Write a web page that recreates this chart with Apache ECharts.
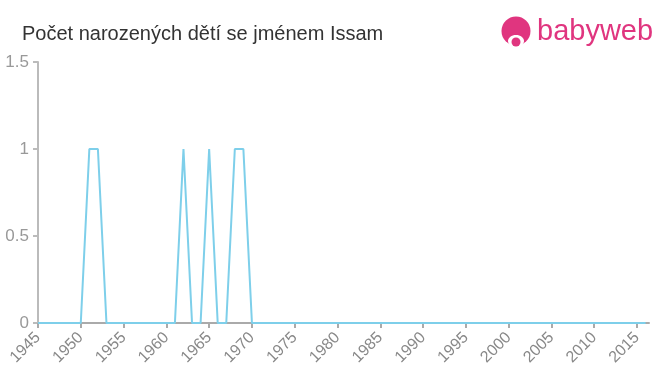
<!DOCTYPE html>
<html><head><meta charset="utf-8">
<script src="https://cdn.jsdelivr.net/npm/echarts@6/dist/echarts.min.js"></script>
<style>html,body{margin:0;padding:0;background:#fff}#c{width:660px;height:375px}</style>
</head><body><div id="c"></div>
<script>
const titleText = "Počet narozených dětí se jménem Issam";
const years = [];
for (let y = 1945; y <= 2016; y++) years.push(y);
const nonZero = {1951: 1, 1952: 1, 1962: 1, 1965: 1, 1968: 1, 1969: 1};
const counts = years.map(y => nonZero[y] || 0);
const yTicks = [0, 0.5, 1, 1.5];

const chart = echarts.init(document.getElementById('c'), null, {renderer: 'canvas'});
chart.setOption({
  animation: false,
  title: {
    text: titleText, left: 17, top: 19,
    textStyle: {fontFamily: 'Liberation Sans, Arial, sans-serif', fontSize: 20, fontWeight: 'normal', color: '#333'}
  },
  grid: {left: 38, right: 11, top: 62, bottom: 52, containLabel: false},
  xAxis: {
    type: 'value', min: 1945, max: 2016.4, interval: 5,
    axisLine: {lineStyle: {color: '#aaa', width: 2}},
    axisTick: {show: true, length: 5, lineStyle: {color: '#aaa', width: 2}},
    splitLine: {show: false},
    axisLabel: {
      rotate: 45, color: '#888', fontSize: 16, margin: 12,
      fontFamily: 'Liberation Sans, Arial, sans-serif',
      showMaxLabel: false,
      formatter: v => (v % 5 === 0 ? String(v) : '')
    }
  },
  yAxis: {
    type: 'value', min: 0, max: 1.5, interval: 0.5,
    axisLine: {show: true, lineStyle: {color: '#bbb', width: 2}},
    axisTick: {show: true, length: 5, lineStyle: {color: '#bbb', width: 2}},
    splitLine: {show: false},
    axisLabel: {color: '#999', fontSize: 17, margin: 9, fontFamily: 'Liberation Sans, Arial, sans-serif',
      formatter: v => String(v)}
  },
  series: [{
    type: 'line', data: years.map((y, i) => [y, counts[i]]),
    showSymbol: false, symbol: 'none',
    lineStyle: {color: '#7ecfea', width: 2},
    z: 3
  }],
  graphic: [
    {type: 'circle', shape: {cx: 516, cy: 31, r: 14.5}, style: {fill: '#e0357f'}},
    {type: 'ellipse', shape: {cx: 516, cy: 41, rx: 8, ry: 6}, style: {fill: '#fff'}},
    {type: 'circle', shape: {cx: 516, cy: 42, r: 4.5}, style: {fill: '#e0357f'}},
    {type: 'text', left: 537, top: 17,
      style: {text: 'babyweb', fill: '#e0357f', font: '29px "Liberation Sans", Arial, sans-serif'}}
  ]
});
</script></body></html>
